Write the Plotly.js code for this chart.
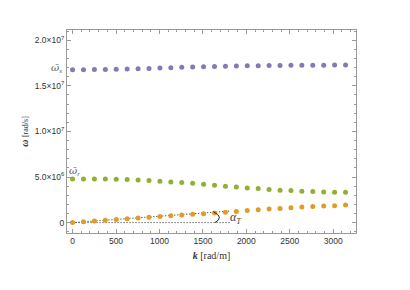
<!DOCTYPE html>
<html>
<head>
<meta charset="utf-8">
<script src="https://cdn.plot.ly/plotly-3.0.1.min.js"></script>
<style>html,body{margin:0;padding:0;background:#fff;}#chart{width:410px;height:290px;}</style>
</head>
<body>
<div id="chart"></div>
<script>
// wavenumber k [rad/m]
const k = [0,125.7,251.3,377.0,502.7,628.3,754.0,879.6,1005.3,1131.0,1256.6,1382.3,1508.0,1633.6,1759.3,1885.0,2010.6,2136.3,2262.0,2387.6,2513.3,2639.0,2764.6,2890.3,3016.0,3141.6];
// omega_s branch [rad/s]
const omegaS = [1.678e7,1.678e7,1.679e7,1.681e7,1.683e7,1.686e7,1.689e7,1.692e7,1.696e7,1.700e7,1.703e7,1.707e7,1.710e7,1.713e7,1.715e7,1.718e7,1.720e7,1.722e7,1.723e7,1.724e7,1.725e7,1.726e7,1.727e7,1.727e7,1.728e7,1.728e7];
// omega_r branch [rad/s]
const omegaR = [4.795e6,4.795e6,4.795e6,4.795e6,4.759e6,4.722e6,4.686e6,4.613e6,4.540e6,4.466e6,4.393e6,4.320e6,4.211e6,4.101e6,3.991e6,3.918e6,3.808e6,3.735e6,3.626e6,3.553e6,3.516e6,3.443e6,3.406e6,3.370e6,3.333e6,3.333e6];
// acoustic-like branch [rad/s]
const omegaA = [0,0.088e6,0.176e6,0.262e6,0.348e6,0.432e6,0.515e6,0.597e6,0.678e6,0.757e6,0.835e6,0.911e6,0.985e6,1.06e6,1.13e6,1.22e6,1.32e6,1.41e6,1.49e6,1.56e6,1.63e6,1.70e6,1.76e6,1.81e6,1.86e6,1.93e6];
const yTickVals = [0,5e6,1e7,1.5e7,2e7];
const yTickText = ['0','5.0×10<sup>6</sup>','1.0×10<sup>7</sup>','1.5×10<sup>7</sup>','2.0×10<sup>7</sup>'];
const xTickVals = [0,500,1000,1500,2000,2500,3000];
const tangentEnd = 1820;

const slope = omegaA[2] / k[2];
const mk = (c) => ({size:5, color:c});
const dotLine = {color:'#222', width:1, dash:'1px,2px'};
const traces = [
  {x:[0,tangentEnd], y:[0,0], mode:'lines', line:dotLine, hoverinfo:'skip'},
  {x:[0,tangentEnd], y:[0,slope*tangentEnd], mode:'lines', line:dotLine, hoverinfo:'skip'},
  {x:k, y:omegaS, mode:'markers', marker:mk('#8778B3')},
  {x:k, y:omegaR, mode:'markers', marker:mk('#8FB032')},
  {x:k, y:omegaA, mode:'markers', marker:mk('#E19C24')}
];
const axisCommon = {
  showgrid:false, zeroline:false, showline:true, linecolor:'#999', linewidth:1, mirror:'ticks',
  ticks:'inside', ticklen:4, tickcolor:'#999', tickwidth:1,
  tickfont:{family:'Liberation Sans, Arial, sans-serif', size:8.5, color:'#333'}
};
const barOmega = '<span style="font-family:DejaVu Serif"><i>ω\u0304</i></span>';
const layout = {
  width:410, height:290,
  margin:{l:67, r:54, t:30, b:57},
  paper_bgcolor:'#fff', plot_bgcolor:'#fff',
  showlegend:false,
  xaxis: Object.assign({}, axisCommon, {
    range:[-64,3262], tickmode:'array', tickvals:xTickVals,
    minor:{ticks:'inside', ticklen:2, dtick:100, tick0:0, tickcolor:'#999'},
    title:{text:'<b><i>k</i></b> [rad/m]', font:{family:'Liberation Serif, serif', size:10, color:'#333'}, standoff:6}
  }),
  yaxis: Object.assign({}, axisCommon, {
    range:[-1.14e6, 2.113e7], tickmode:'array', tickvals:yTickVals, ticktext:yTickText,
    minor:{ticks:'inside', ticklen:2, dtick:1e6, tick0:0, tickcolor:'#999'},
    title:{text:'<b><i>ω</i></b> <span style="font-size:8px">[rad/s]</span>', font:{family:'Liberation Serif, serif', size:10, color:'#333'}, standoff:4}
  }),
  shapes:[
    {type:'path', xref:'x', yref:'y', path:'M 1620,1.2e6 Q 1750,0.6e6 1640,0', line:{color:'#222', width:1}}
  ],
  annotations:[
    {xref:'paper', yref:'y', x:-0.012, y:omegaS[0]+0.1e6, xanchor:'right', yanchor:'middle', showarrow:false,
     text:barOmega+'<sub><i>s</i></sub>', font:{family:'Liberation Serif, serif', size:10, color:'#555'}},
    {xref:'x', yref:'y', x:-60, y:omegaR[0]+0.85e6, xanchor:'left', yanchor:'middle', showarrow:false,
     text:barOmega+'<sub><i>r</i></sub>', font:{family:'Liberation Serif, serif', size:10, color:'#555'}},
    {xref:'x', yref:'y', x:1790, y:0.5e6, xanchor:'left', yanchor:'middle', showarrow:false,
     text:'<i>α</i><sub><i>T</i></sub>', font:{family:'Liberation Serif, serif', size:12, color:'#444'}}
  ]
};
Plotly.newPlot('chart', traces, layout, {staticPlot:true, displayModeBar:false});
</script>
</body>
</html>
